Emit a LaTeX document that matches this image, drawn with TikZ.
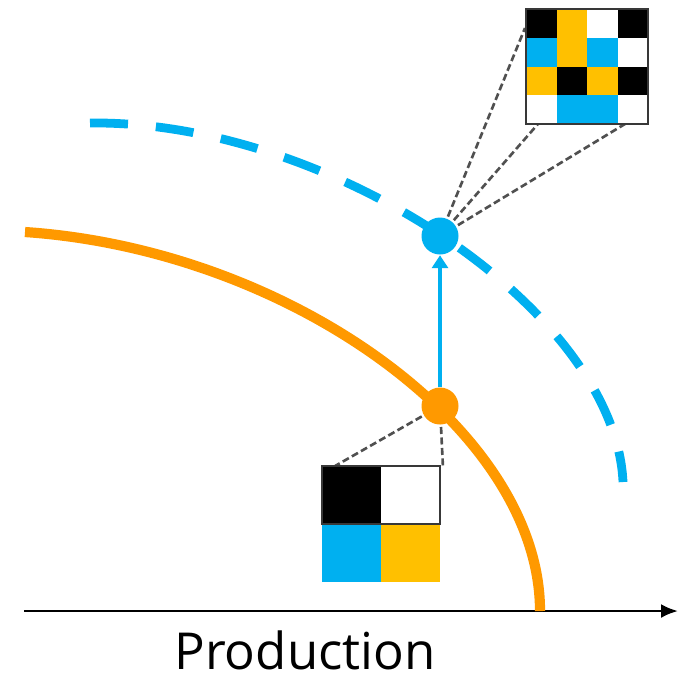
\documentclass[tikz,border=0pt]{standalone}
\usepackage{fontspec}
\setmainfont{Open Sans}
\usetikzlibrary{calc,arrows.meta}

\definecolor{prodblue}{RGB}{0,176,240}
\definecolor{prodorange}{RGB}{255,153,0}
\definecolor{cellyellow}{RGB}{255,192,0}
\definecolor{leadergray}{RGB}{80,80,80}

\tikzset{
    frontier/.style={line width=2.9pt, prodorange},
    frontiernew/.style={line width=2.5pt, prodblue, dash pattern=on 0.38cm off 0.28cm},
    leader/.style={leadergray, line width=0.75pt, dash pattern=on 0.07cm off 0.035cm},
    dot/.style={circle, inner sep=0pt, minimum size=0.37cm},
    gridframe/.style={draw=leadergray!70!black, line width=0.65pt}
}

\begin{document}
\begin{tikzpicture}
        % Frame of the whole picture
        \useasboundingbox (0,0) rectangle (6.82,-6.77);

        % Cell sizes of the two patches
        \pgfmathsetmacro{\cw}{0.305}
        \pgfmathsetmacro{\ch}{0.2875}
        \pgfmathsetmacro{\sw}{0.59}
        \pgfmathsetmacro{\sh}{0.58}

        % Axis and its label
        \coordinate (origin) at (0.24,-6.11);
        \coordinate (axisend) at (6.78,-6.11);
        \draw[line width=0.75pt, -{Latex[length=0.17cm,width=0.14cm]}] (origin) -- (axisend);
        \node[anchor=base, font=\fontsize{14.5}{17}\selectfont] (xlabel) at (3.05,-6.69) {Production};

        % Old and new frontier
        \draw[frontier] (0.25,-2.32) .. controls (2.90,-2.50) and (5.40,-4.30) .. (5.40,-6.11);
        \draw[frontiernew] (0.90,-1.23) .. controls (3.30,-1.20) and (6.15,-3.10) .. (6.23,-4.82);

        % Points on the frontiers, corners of the patches
        \coordinate (B) at (4.40,-2.36);
        \coordinate (O) at (4.40,-4.06);
        \coordinate (big) at (5.26,-0.09);
        \coordinate (small) at (3.22,-4.66);

        % Leader lines, partly hidden by the patches
        \draw[leader] (B) -- ($(big)+(-0.01,-0.19)$);
        \draw[leader] (B) -- ($(big)+(0.12,-1.15)$);
        \draw[leader] (B) -- ($(big)+(1.22,-1.01)$);
        \draw[leader] (O) -- ($(small)+(0.13,0)$);
        \draw[leader] (O) -- ($(small)+(1.21,-0.02)$);

        % Big patch, 4x4
        \begin{scope}[shift={(big)}]
            \foreach \col [count=\i from 0] in {black,cellyellow,white,black,
                prodblue,cellyellow,prodblue,white,
                cellyellow,black,cellyellow,black,
                white,prodblue,prodblue,white} {
                \pgfmathtruncatemacro{\cx}{mod(\i,4)}
                \pgfmathtruncatemacro{\cy}{div(\i,4)}
                \fill[\col] (\cx*\cw,-\cy*\ch) rectangle ++(\cw,-\ch);
            }
            \draw[gridframe] (0,0) rectangle (4*\cw,-4*\ch);
        \end{scope}

        % Small patch, 2x2
        \begin{scope}[shift={(small)}]
            \foreach \col [count=\i from 0] in {black,white,prodblue,cellyellow} {
                \pgfmathtruncatemacro{\cx}{mod(\i,2)}
                \pgfmathtruncatemacro{\cy}{div(\i,2)}
                \fill[\col] (\cx*\sw,-\cy*\sh) rectangle ++(\sw,-\sh);
            }
            \draw[gridframe] (0,0) rectangle (2*\sw,-\sh);
        \end{scope}

        % Dots and the shift between them
        \node[dot, fill=prodblue] (bluedot) at (B) {};
        \node[dot, fill=prodorange] (orangedot) at (O) {};
        \draw[prodblue, line width=1.4pt, -{Triangle[width=0.16cm,length=0.13cm]}] (orangedot) -- (bluedot);

    \end{tikzpicture}
\end{document}
